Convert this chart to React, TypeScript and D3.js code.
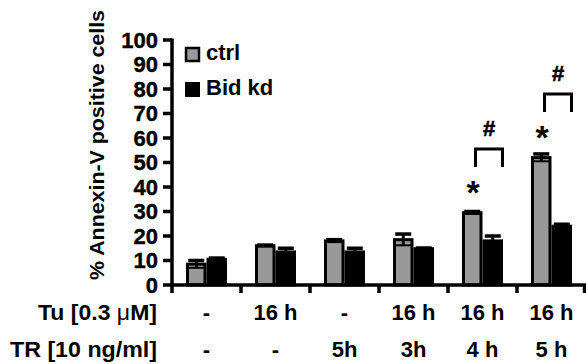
import React from "react";
import * as d3 from "d3";

// groups along the x axis
const groups = ["g1", "g2", "g3", "g4", "g5", "g6"];
const tuLabels = ["-", "16 h", "-", "16 h", "16 h", "16 h"];
const trLabels = ["-", "-", "5h", "3h", "4 h", "5 h"];

// % Annexin-V positive cells, mean and error
const ctrlMean = [8.5, 16, 18, 18.5, 29.5, 52];
const ctrlErr = [1.5, 0.3, 0.5, 2.3, 0.5, 1.5];
const bidMean = [10.5, 13.5, 13.5, 14.8, 18, 24];
const bidErr = [0.5, 1.5, 1.5, 0.3, 2, 0.8];

const yTicks = [0, 10, 20, 30, 40, 50, 60, 70, 80, 90, 100];

// significance marks: group index, "*" level, bracket top/leg, "#" level
const sigGroup = [4, 5];
const starLevel = [40.8, 63.3];
const bracketTop = [55.5, 78];
const bracketLeg = [48.2, 70.6];
const hashLevel = [64, 86.5];

const FONT = "'Liberation Sans', Arial, sans-serif";

export default function App() {
    const width = 586;
    const height = 364;

    const x = d3.scaleBand().domain(groups).range([172, 586]).padding(0);
    const inner = d3.scaleBand().domain(["ctrl", "bid"]).range([14, 55]);
    const y = d3.scaleLinear().domain([0, 100]).range([285, 40]);

    const bw = inner.bandwidth();
    const series = [
        {key: "ctrl", mean: ctrlMean, err: ctrlErr, fill: "#999999"},
        {key: "bid", mean: bidMean, err: bidErr, fill: "#000000"},
    ];

    return (
        <svg width={width} height={height} style={{position: "absolute", left: 0, top: 0}}
             fontFamily={FONT} fontWeight="bold">
            {/* bars */}
            {series.map((s) =>
                groups.map((g, i) => {
                    const x0 = (x(g) as number) + (inner(s.key) as number);
                    const cx = x0 + bw / 2;
                    const top = y(s.mean[i]);
                    return (
                        <g key={s.key + g}>
                            <rect x={x0 + 1.5} y={top} width={bw - 3} height={y(0) - top}
                                  fill={s.fill} stroke="#000" strokeWidth={3}/>
                            <line x1={cx} x2={cx} y1={y(s.mean[i] - s.err[i])} y2={y(s.mean[i] + s.err[i])}
                                  stroke="#000" strokeWidth={3}/>
                            <line x1={cx - 8} x2={cx + 8} y1={y(s.mean[i] + s.err[i])} y2={y(s.mean[i] + s.err[i])}
                                  stroke="#000" strokeWidth={3.5}/>
                            <line x1={cx - 8} x2={cx + 8} y1={y(s.mean[i] - s.err[i])} y2={y(s.mean[i] - s.err[i])}
                                  stroke="#000" strokeWidth={2}/>
                        </g>
                    );
                })
            )}

            {/* y axis */}
            <line x1={172} x2={172} y1={y(100) - 1.5} y2={y(0) + 1.5} stroke="#000" strokeWidth={3.5}/>
            {yTicks.map((t) => (
                <g key={t}>
                    <line x1={163} x2={172} y1={y(t)} y2={y(t)} stroke="#000" strokeWidth={3.5}/>
                    <text x={158} y={y(t)} dy="0.36em" textAnchor="end" fontSize={22}
                          stroke="#000" strokeWidth={0.4}>{t}</text>
                </g>
            ))}
            <text transform={`translate(104,145) rotate(-90)`} textAnchor="middle" fontSize={21}
                  textLength={270} lengthAdjust="spacingAndGlyphs">% Annexin-V positive cells</text>

            {/* x axis */}
            <line x1={172} x2={586} y1={y(0)} y2={y(0)} stroke="#000" strokeWidth={3.5}/>
            {[...groups.map((g) => x(g) as number), 584.5].map((t, i) => (
                <line key={i} x1={t} x2={t} y1={y(0)} y2={y(0) + 8} stroke="#000" strokeWidth={3.5}/>
            ))}

            {/* condition rows */}
            <text x={157} y={320} textAnchor="end" fontSize={22} textLength={119} lengthAdjust="spacingAndGlyphs">
                Tu [0.3 <tspan fontWeight="normal">μ</tspan>M]
            </text>
            <text x={157} y={357} textAnchor="end" fontSize={22} textLength={147}
                  lengthAdjust="spacingAndGlyphs">TR [10 ng/ml]</text>
            {groups.map((g, i) => (
                <g key={"lab" + g}>
                    <text x={(x(g) as number) + x.bandwidth() / 2} y={320} textAnchor="middle" fontSize={22}>
                        {tuLabels[i]}
                    </text>
                    <text x={(x(g) as number) + x.bandwidth() / 2} y={357} textAnchor="middle" fontSize={22}>
                        {trLabels[i]}
                    </text>
                </g>
            ))}

            {/* significance */}
            {sigGroup.map((gi, k) => {
                const bx = x(groups[gi]) as number;
                const l = bx + 27.5;
                const r = bx + 54.5;
                return (
                    <g key={"sig" + gi}>
                        <text x={bx + 25} y={y(starLevel[k]) + 19} textAnchor="middle" fontSize={34}>*</text>
                        <path d={`M${l},${y(bracketLeg[k])}V${y(bracketTop[k])}H${r}V${y(bracketLeg[k])}`}
                              fill="none" stroke="#000" strokeWidth={3}/>
                        <text x={(l + r) / 2} y={y(hashLevel[k]) + 7.7} textAnchor="middle" fontSize={22}
                              stroke="#000" strokeWidth={0.6}>#</text>
                    </g>
                );
            })}

            {/* legend */}
            <rect x={186} y={48} width={13} height={13} fill="#999999" stroke="#000" strokeWidth={2.5}/>
            <text x={206} y={60} fontSize={22}>ctrl</text>
            <rect x={185} y={82} width={15} height={15} fill="#000"/>
            <text x={206} y={95} fontSize={22}>Bid kd</text>
        </svg>
    );
}
